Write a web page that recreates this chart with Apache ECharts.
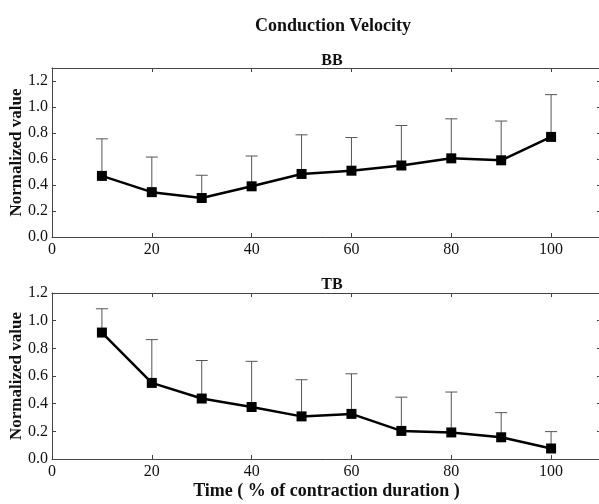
<!DOCTYPE html>
<html>
<head>
<meta charset="utf-8">
<script src="https://cdn.jsdelivr.net/npm/echarts@6/dist/echarts.min.js"></script>
<style>
html,body{margin:0;padding:0;background:#fff;}
#chart{width:599px;height:504px;}
</style>
</head>
<body>
<div id="chart"></div>
<script>
// ---- data ----
const timePct = [10, 20, 30, 40, 50, 60, 70, 80, 90, 100];
const bbMean  = [0.47, 0.345, 0.30, 0.39, 0.485, 0.51, 0.55, 0.605, 0.59, 0.77];
const bbUpper = [0.755, 0.615, 0.475, 0.623, 0.786, 0.765, 0.858, 0.909, 0.892, 1.095];
const tbMean  = [0.914, 0.55, 0.437, 0.376, 0.308, 0.326, 0.203, 0.192, 0.157, 0.076];
const tbUpper = [1.086, 0.863, 0.712, 0.706, 0.573, 0.616, 0.447, 0.484, 0.335, 0.198];
const mainTitle = 'Conduction Velocity';
const panelTitles = ['BB', 'TB'];
const yName = 'Normalized value';
const xName = 'Time ( % of contraction duration )';

const FONT = "'Liberation Serif', 'Times New Roman', serif";
const AXIS_COLOR = '#444';
const TEXT_COLOR = '#111';

function zip3(a, b, c) { return a.map((v, i) => [v, b[i], c[i]]); }
function zip2(a, b) { return a.map((v, i) => [v, b[i]]); }

function errRender(params, api) {
  const x = api.value(0), m = api.value(1), u = api.value(2);
  const p0 = api.coord([x, m]);
  const p1 = api.coord([x, u]);
  const st = { stroke: '#555', lineWidth: 1 };
  return {
    type: 'group',
    children: [
      { type: 'line', shape: { x1: p0[0], y1: p0[1], x2: p1[0], y2: p1[1] }, style: st },
      { type: 'line', shape: { x1: p1[0] - 6, y1: p1[1], x2: p1[0] + 6, y2: p1[1] }, style: st }
    ]
  };
}

function xAxisDef(grid, pos, withLabels, withName) {
  return {
    type: 'value', gridIndex: grid, position: pos,
    min: 0, max: 110, interval: 20,
    axisLine: { show: true, onZero: false, lineStyle: { color: AXIS_COLOR, width: 1 } },
    axisTick: { show: true, inside: true, length: 4, lineStyle: { color: AXIS_COLOR } },
    axisLabel: { show: withLabels, showMaxLabel: false, margin: 5, color: TEXT_COLOR, fontFamily: FONT, fontSize: 16 },
    splitLine: { show: false },
    name: withName ? xName : '',
    nameLocation: 'middle', nameGap: 23, nameMoveOverlap: false,
    nameTextStyle: { fontFamily: FONT, fontSize: 18, fontWeight: 'bold', color: TEXT_COLOR }
  };
}
function yAxisDef(grid, pos, max, withLabels) {
  return {
    type: 'value', gridIndex: grid, position: pos,
    min: 0, max: max, interval: 0.2,
    axisLine: { show: true, onZero: false, lineStyle: { color: AXIS_COLOR, width: 1 } },
    axisTick: { show: true, inside: true, length: 4, lineStyle: { color: AXIS_COLOR } },
    axisLabel: { show: withLabels, showMaxLabel: max > 1.25 ? false : true, margin: 4, color: TEXT_COLOR, fontFamily: FONT, fontSize: 16,
      formatter: v => v.toFixed(1) },
    splitLine: { show: false },
    name: withLabels ? yName : '',
    nameLocation: 'middle', nameGap: 27, nameRotate: 90, nameMoveOverlap: false,
    nameTextStyle: { fontFamily: FONT, fontSize: 17, fontWeight: 'bold', color: TEXT_COLOR }
  };
}

const chart = echarts.init(document.getElementById('chart'), null, { renderer: 'canvas' });
const option = {
  animation: false,
  backgroundColor: '#fff',
  title: [
    { text: mainTitle, left: 328, top: 12, textAlign: 'center',
      textStyle: { fontFamily: FONT, fontSize: 18, fontWeight: 'bold', color: TEXT_COLOR } },
    { text: panelTitles[0], left: 327, top: 48, textAlign: 'center',
      textStyle: { fontFamily: FONT, fontSize: 16, fontWeight: 'bold', color: TEXT_COLOR } },
    { text: panelTitles[1], left: 327, top: 272, textAlign: 'center',
      textStyle: { fontFamily: FONT, fontSize: 16, fontWeight: 'bold', color: TEXT_COLOR } }
  ],
  grid: [
    { left: 52, top: 68, width: 549, height: 169, containLabel: false, outerBoundsMode: 'none' },
    { left: 52, top: 293, width: 549, height: 166, containLabel: false, outerBoundsMode: 'none' }
  ],
  xAxis: [
    xAxisDef(0, 'bottom', true, false),
    xAxisDef(0, 'top', false, false),
    xAxisDef(1, 'bottom', true, true),
    xAxisDef(1, 'top', false, false)
  ],
  yAxis: [
    yAxisDef(0, 'left', 1.3, true),
    yAxisDef(0, 'right', 1.3, false),
    yAxisDef(1, 'left', 1.2, true),
    yAxisDef(1, 'right', 1.2, false)
  ],
  series: [
    { type: 'custom', xAxisIndex: 0, yAxisIndex: 0, renderItem: errRender,
      data: zip3(timePct, bbMean, bbUpper), z: 1, silent: true },
    { type: 'line', xAxisIndex: 0, yAxisIndex: 0, data: zip2(timePct, bbMean),
      symbol: 'rect', symbolSize: 10, showAllSymbol: true, z: 3,
      itemStyle: { color: '#000' }, lineStyle: { color: '#000', width: 2.5 } },
    { type: 'custom', xAxisIndex: 2, yAxisIndex: 2, renderItem: errRender,
      data: zip3(timePct, tbMean, tbUpper), z: 1, silent: true },
    { type: 'line', xAxisIndex: 2, yAxisIndex: 2, data: zip2(timePct, tbMean),
      symbol: 'rect', symbolSize: 10, showAllSymbol: true, z: 3,
      itemStyle: { color: '#000' }, lineStyle: { color: '#000', width: 2.5 } }
  ]
};
chart.setOption(option);
</script>
</body>
</html>
